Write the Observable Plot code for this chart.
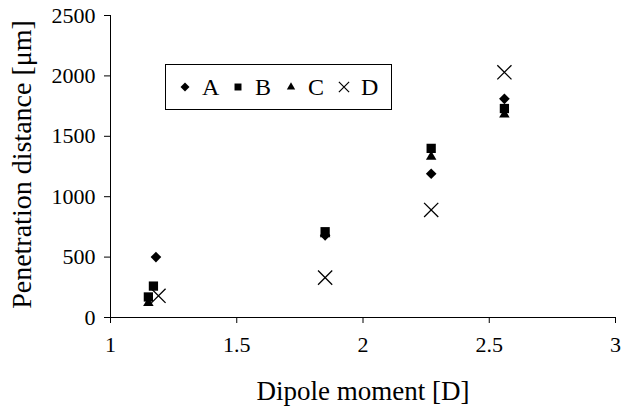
<!DOCTYPE html>
<html>
<head>
<meta charset="utf-8">
<script src="https://cdn.jsdelivr.net/npm/d3@7"></script>
<script src="https://cdn.jsdelivr.net/npm/@observablehq/plot@0.6"></script>
<style>
  html, body { margin: 0; padding: 0; background: #fff; }
  #wrap { position: relative; width: 623px; height: 413px; font-family: "Liberation Serif", "DejaVu Serif", serif; }
  #legend { position: absolute; left: 165px; top: 64px; width: 227px; height: 46px; border: 1px solid #000; background: #fff;
    display: flex; align-items: center; box-sizing: border-box; padding-left: 13px; font-size: 24px; }
  .item { display: flex; align-items: center; width: 55px; }
  .item svg { margin-right: 11px; }
</style>
</head>
<body>
<div id="wrap"></div>
<script>
const seriesNames = ["A", "B", "C", "D"];
const xA = [1.18, 1.85, 2.27, 2.56];
const yA = [500, 680, 1190, 1810];
const xB = [1.15, 1.17, 1.85, 2.27, 2.56];
const yB = [170, 260, 710, 1400, 1730];
const xC = [1.15, 1.85, 2.27, 2.56];
const yC = [120, 690, 1330, 1680];
const xD = [1.19, 1.85, 2.27, 2.56];
const yD = [180, 330, 890, 2030];
const xTicks = [1, 1.5, 2, 2.5, 3];
const yTicks = [0, 500, 1000, 1500, 2000, 2500];

const toRows = (name, xs, ys) => xs.map((x, i) => ({series: name, x, y: ys[i]}));
const rowsA = toRows("A", xA, yA);
const rowsB = toRows("B", xB, yB);
const rowsC = toRows("C", xC, yC);
const rowsD = toRows("D", xD, yD);

const font = '"Liberation Serif", "DejaVu Serif", serif';

const chart = Plot.plot({
  width: 623,
  height: 413,
  marginLeft: 110,
  marginRight: 8,
  marginTop: 15,
  marginBottom: 96,
  style: {fontFamily: font, fontSize: "22px", background: "#fff", color: "#000"},
  x: {domain: [1, 3], ticks: xTicks, tickSize: 6, tickPadding: 13, tickFormat: d => String(d), label: null},
  y: {domain: [0, 2500], ticks: yTicks, tickSize: 6, tickPadding: 9, tickFormat: d => String(d), label: null},
  marks: [
    Plot.ruleX([1], {stroke: "#000"}),
    Plot.ruleY([0], {stroke: "#000"}),
    Plot.dot(rowsA, {x: "x", y: "y", symbol: "diamond2", r: 4.8, fill: "#000"}),
    Plot.dot(rowsB, {x: "x", y: "y", symbol: "square2", r: 5.9, fill: "#000"}),
    Plot.dot(rowsC, {x: "x", y: "y", symbol: "triangle2", r: 5, fill: "#000"}),
    Plot.dot(rowsD, {x: "x", y: "y", symbol: "times", r: 6.5, stroke: "#000", strokeWidth: 1.3, fill: "none"}),
    Plot.text(["Penetration distance [μm]"], {frameAnchor: "left", dx: -88, dy: -2, rotate: -90, textAnchor: "middle", lineAnchor: "middle", fontSize: 28, fontFamily: font, fill: "#000"}),
    Plot.text(["Dipole moment [D]"], {frameAnchor: "bottom", dy: 74, textAnchor: "middle", lineAnchor: "middle", fontSize: 27, fontFamily: font, fill: "#000"})
  ]
});
const wrap = document.getElementById("wrap");
wrap.appendChild(chart);

// legend
const symbols = {A: d3.symbolDiamond2, B: d3.symbolSquare2, C: d3.symbolTriangle2, D: d3.symbolTimes};
const symSize = {A: 52, B: 62, C: 50, D: 70};
const legend = document.createElement("div");
legend.id = "legend";
for (const name of seriesNames) {
  const item = document.createElement("div");
  item.className = "item";
  const svg = d3.create("svg").attr("width", 12).attr("height", 12).attr("viewBox", "-6 -6 12 12");
  const isX = name === "D";
  svg.append("path")
    .attr("d", d3.symbol(symbols[name], symSize[name])())
    .attr("fill", isX ? "none" : "#000")
    .attr("stroke", isX ? "#000" : "none")
    .attr("stroke-width", 1.2);
  item.appendChild(svg.node());
  const t = document.createElement("span");
  t.textContent = name;
  item.appendChild(t);
  legend.appendChild(item);
}
wrap.appendChild(legend);
</script>
</body>
</html>
